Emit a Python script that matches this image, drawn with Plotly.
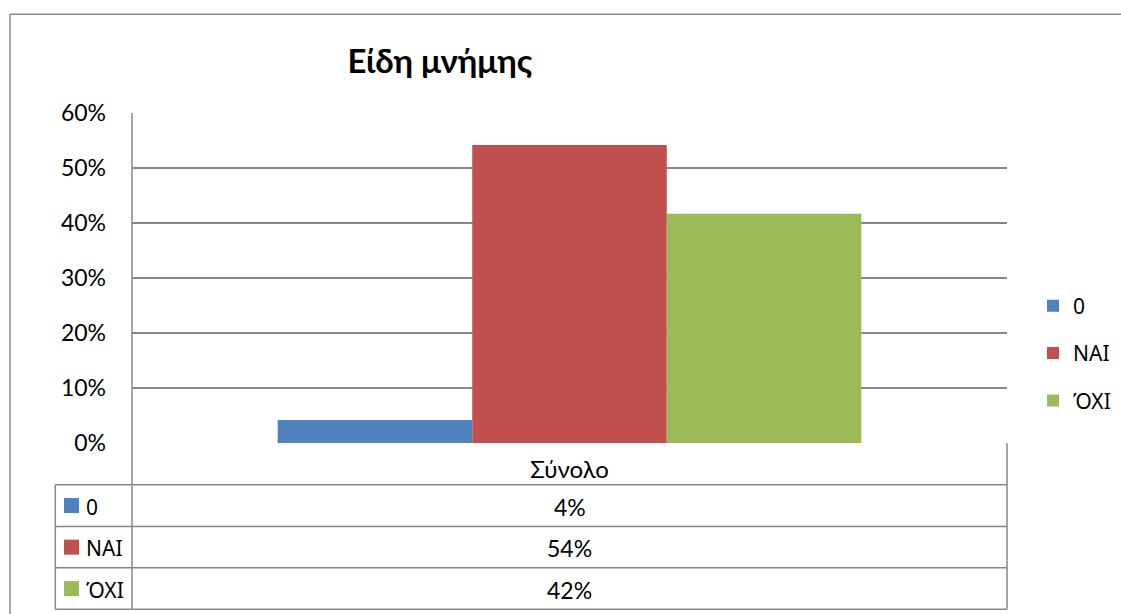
import plotly.graph_objects as go

# ---- data ----
title_text = "Είδη μνήμης"
categories = ["Σύνολο"]
series_names = ["0", "NAI", "ΌΧΙ"]
series_values = [[0.0417], [0.5417], [0.4167]]
series_colors = ["#4F81BD", "#C0504D", "#9BBB59"]
y_tick_vals = [0, 0.1, 0.2, 0.3, 0.4, 0.5, 0.6]
y_tick_text = ["0%", "10%", "20%", "30%", "40%", "50%", "60%"]

FONT = "Lato, 'Open Sans', sans-serif"
LFONT = "'Noto Sans', 'Open Sans', sans-serif"
W, H = 1121, 614
L, R, T, B = 132, 1007, 113.3, 442.7
GRID = "#878787"


def xp(px):
    return (px - L) / (R - L)


def yp(py):
    return (B - py) / (B - T)


fig = go.Figure()
for i, (name, vals, col) in enumerate(zip(series_names, series_values, series_colors)):
    fig.add_trace(go.Bar(
        x=categories, y=vals, name=name, marker=dict(color=col, line=dict(width=0)),
        legendgroup=name,
    ))

shapes = []
line = dict(color=GRID, width=1.5)
# outer chart border
shapes.append(dict(type="rect", xref="paper", yref="paper",
                   x0=xp(10), x1=xp(1130), y0=yp(625), y1=yp(14.7),
                   line=dict(color="#8a8a8a", width=1.5)))
# y axis line extended through the table
shapes.append(dict(type="line", xref="paper", yref="paper",
                   x0=0, x1=0, y0=yp(608.7), y1=1, line=line))
# right border of table
shapes.append(dict(type="line", xref="paper", yref="paper",
                   x0=1, x1=1, y0=yp(608.7), y1=0, line=line))
# left border of table rows
shapes.append(dict(type="line", xref="paper", yref="paper",
                   x0=xp(55.3), x1=xp(55.3), y0=yp(608.7), y1=yp(484.3), line=line))
row_lines = [484.3, 526.0, 567.3, 608.7]
for ry in row_lines:
    shapes.append(dict(type="line", xref="paper", yref="paper",
                       x0=xp(55.3), x1=1, y0=yp(ry), y1=yp(ry), line=line))

annotations = []
row_tops = row_lines[:-1]
row_bots = row_lines[1:]
for i, (name, vals, col) in enumerate(zip(series_names, series_values, series_colors)):
    cy = (row_tops[i] + row_bots[i]) / 2
    # legend key in table
    shapes.append(dict(type="rect", xref="paper", yref="paper",
                       x0=xp(64), x1=xp(79), y0=yp(cy + 7.5), y1=yp(cy - 7.5),
                       fillcolor=col, line=dict(width=0)))
    annotations.append(dict(xref="paper", yref="paper", x=xp(84), y=yp(cy + 1),
                            xanchor="left", yanchor="middle", showarrow=False,
                            text=name, font=dict(family=LFONT, size=21, color="#000")))
    annotations.append(dict(xref="paper", yref="paper", x=0.5, y=yp(cy + 1),
                            xanchor="center", yanchor="middle", showarrow=False,
                            text=f"{vals[0]:.0%}", font=dict(family=FONT, size=23, color="#000")))

fig.update_layout(
    width=W, height=H,
    margin=dict(l=L, r=W - R, t=T, b=H - B, pad=0, autoexpand=False),
    paper_bgcolor="white", plot_bgcolor="white",
    barmode="group", bargap=0.333, bargroupgap=0,
    title=dict(text=f"<b>{title_text}</b>", x=440 / W, xanchor="center", xref="container",
               y=1 - 61 / H, yanchor="middle", yref="container",
               font=dict(family=FONT, size=33, color="#000")),
    font=dict(family=FONT, color="#000"),
    xaxis=dict(showgrid=False, zeroline=False, showline=False, ticks="",
               tickfont=dict(family=FONT, size=24, color="#000"), ticklabelstandoff=10,
               fixedrange=True),
    yaxis=dict(range=[0, 0.6], tickvals=y_tick_vals, ticktext=y_tick_text,
               showgrid=True, gridcolor=GRID, gridwidth=1.5, zeroline=False,
               showline=False, ticks="", ticklabelstandoff=25,
               tickfont=dict(family=FONT, size=23, color="#000"), fixedrange=True),
    legend=dict(x=xp(1033), xanchor="left", y=yp(353), yanchor="middle",
                font=dict(family=LFONT, size=21, color="#000"),
                tracegroupgap=17, bgcolor="rgba(0,0,0,0)", itemwidth=30),
    shapes=shapes, annotations=annotations,
    showlegend=True,
)

fig.write_html("out.html", config={"displayModeBar": False},
               post_script="document.body.style.margin='0';")
